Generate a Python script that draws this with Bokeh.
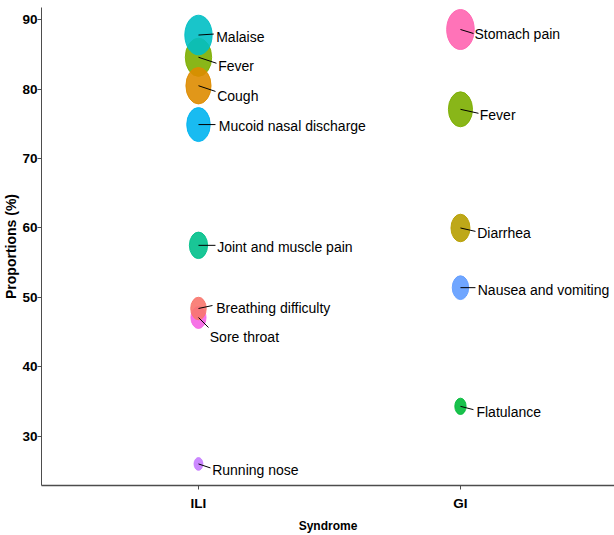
from bokeh.plotting import figure
from bokeh.models import ColumnDataSource, FixedTicker, Range1d
from bokeh.core.properties import value
from bokeh.embed import file_html
from bokeh.resources import INLINE

# ---------------- data ----------------
syndromes = ["ILI", "GI"]
symptoms = ["Fever", "Cough", "Malaise", "Mucoid nasal discharge",
            "Joint and muscle pain", "Sore throat", "Breathing difficulty",
            "Running nose",
            "Stomach pain", "Fever", "Diarrhea", "Nausea and vomiting",
            "Flatulance"]
syndrome_of = ["ILI", "ILI", "ILI", "ILI", "ILI", "ILI", "ILI", "ILI",
               "GI", "GI", "GI", "GI", "GI"]
proportions = [84.6, 80.5, 87.8, 74.9, 57.5, 47.1, 48.4, 26.0,
               88.6, 77.1, 60.0, 51.4, 34.3]
y_ticks = [30, 40, 50, 60, 70, 80, 90]

# ---------------- styles / layout ----------------
hue = ["#F8766D", "#DE8C00", "#B79F00", "#7CAE00", "#00BA38", "#00C08B",
       "#00BFC4", "#00B4F0", "#619CFF", "#C77CFF", "#F564E3", "#FF64B0"]
levels = sorted(set(symptoms))
color_of = {s: hue[i] for i, s in enumerate(levels)}

# label offsets (px, from point centre to text left/middle) and segment ends (px)
label_dxdy = {
    ("ILI", "Malaise"): (17.7, 2.3), ("ILI", "Fever"): (19.7, 8.7),
    ("ILI", "Cough"): (18.7, 10.0), ("ILI", "Mucoid nasal discharge"): (20.3, 1.7),
    ("ILI", "Joint and muscle pain"): (18.7, 1.7), ("ILI", "Breathing difficulty"): (17.7, -0.3),
    ("ILI", "Sore throat"): (11.3, 19.7), ("ILI", "Running nose"): (13.7, 6.3),
    ("GI", "Stomach pain"): (14.0, 5.0), ("GI", "Fever"): (19.3, 5.7),
    ("GI", "Diarrhea"): (16.7, 5.0), ("GI", "Nausea and vomiting"): (17.3, 2.7),
    ("GI", "Flatulance"): (16.0, 5.7),
}
seg_end = {
    ("ILI", "Malaise"): (15.3, -1.0), ("ILI", "Fever"): (18.0, 6.0),
    ("ILI", "Cough"): (17.0, 5.7), ("ILI", "Mucoid nasal discharge"): (17.0, 0.0),
    ("ILI", "Joint and muscle pain"): (17.0, 0.0), ("ILI", "Breathing difficulty"): (14.0, -3.0),
    ("ILI", "Sore throat"): (10.0, 10.0), ("ILI", "Running nose"): (12.0, 4.0),
    ("GI", "Stomach pain"): (13.0, 4.0), ("GI", "Fever"): (18.0, 4.0),
    ("GI", "Diarrhea"): (15.0, 3.4), ("GI", "Nausea and vomiting"): (15.0, 0.0),
    ("GI", "Flatulance"): (13.0, 3.3),
}

W, H = 614, 535
B_LEFT, B_BOTTOM, B_TOP = 41, 50, 7
FRAME_W, FRAME_H = W - B_LEFT, H - B_BOTTOM - B_TOP
X_LO, X_HI = 0.4008, 2.588
Y_HI = 91.77
PX_X = FRAME_W / (X_HI - X_LO)
PX_Y = 6.94
Y_LO = Y_HI - FRAME_H / PX_Y

xs = [syndromes.index(s) + 1 for s in syndrome_of]
keys = list(zip(syndrome_of, symptoms))
src = ColumnDataSource(dict(
    x=xs, y=proportions, label=symptoms,
    color=[color_of[s] for s in symptoms],
    w=[0.3 * v + 1 for v in proportions],
    h=[1.45 * (0.3 * v + 1) for v in proportions],
    dx=[label_dxdy[k][0] for k in keys],
    dy=[label_dxdy[k][1] for k in keys],
    x1=[x + seg_end[k][0] / PX_X for x, k in zip(xs, keys)],
    y1=[y - seg_end[k][1] / PX_Y for y, k in zip(proportions, keys)],
))

p = figure(width=W, height=H, output_backend="svg", toolbar_location=None,
           x_range=Range1d(X_LO, X_HI), y_range=Range1d(Y_LO, Y_HI),
           min_border_left=B_LEFT, min_border_bottom=B_BOTTOM,
           min_border_top=B_TOP, min_border_right=0)
p.outline_line_color = None
p.xgrid.visible = False
p.ygrid.visible = False
p.background_fill_color = "white"

p.ellipse(x="x", y="y", width="w", height="h", width_units="screen",
          height_units="screen", fill_color="color", fill_alpha=0.9,
          line_color="color", line_alpha=0.9, source=src)
p.segment(x0="x", y0="y", x1="x1", y1="y1", line_color="black",
          line_width=1, source=src)
p.text(x="x", y="y", text="label", x_offset="dx", y_offset="dy",
       text_align="left", text_baseline="middle",
       text_font=value("Liberation Sans"), text_font_size="14px",
       text_color="black", source=src)

AX_COL = "#4d4d4d"
FONT = "Liberation Sans"
for ax in (p.xaxis[0], p.yaxis[0]):
    ax.axis_line_color = AX_COL
    ax.major_tick_line_color = AX_COL
    ax.minor_tick_line_color = None
    ax.major_tick_in = 0
    ax.major_tick_out = 4
    ax.major_label_text_font = FONT
    ax.major_label_text_font_style = "bold"
    ax.major_label_text_font_size = "13.5px"
    ax.major_label_text_color = "black"
    ax.axis_label_text_font = FONT
    ax.axis_label_text_font_style = "bold"
    ax.axis_label_text_color = "black"

p.yaxis.ticker = FixedTicker(ticks=y_ticks)
p.yaxis.major_label_standoff = 0
p.yaxis.axis_line_width = 1
p.yaxis.axis_label = "Proportions (%)"
p.yaxis.axis_label_text_font_size = "14px"
p.yaxis.axis_label_standoff = 0

p.xaxis.ticker = FixedTicker(ticks=[1, 2])
p.xaxis.major_label_overrides = {i + 1: s for i, s in enumerate(syndromes)}
p.xaxis.major_label_standoff = 6
p.xaxis.axis_line_width = 1.5
p.xaxis.axis_label = "Syndrome"
p.xaxis.axis_label_text_font_size = "12px"
p.xaxis.axis_label_standoff = 5

open("out.html", "w").write(file_html(p, INLINE))
